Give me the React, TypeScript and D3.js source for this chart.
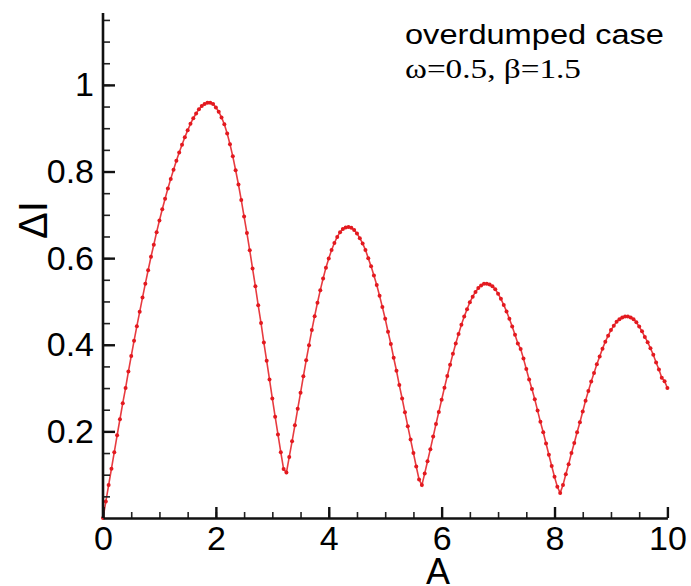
import React, { useEffect, useRef } from 'react';
import * as d3 from 'd3';

const aValues: number[] = d3.range(0, 201).map(i => +(i * 0.05).toFixed(2));

// ΔI values
const deltaI: number[] = [
  0.000, 0.038, 0.076, 0.114, 0.152, 0.191, 0.228, 0.265, 0.300, 0.338,
  0.374, 0.409, 0.443, 0.476, 0.509, 0.541, 0.572, 0.603, 0.631, 0.660,
  0.687, 0.713, 0.737, 0.761, 0.783, 0.804, 0.825, 0.844, 0.862, 0.879,
  0.895, 0.910, 0.923, 0.934, 0.944, 0.951, 0.956, 0.959, 0.959, 0.956,
  0.948, 0.938, 0.925, 0.909, 0.888, 0.863, 0.835, 0.803, 0.770, 0.734,
  0.696, 0.658, 0.618, 0.576, 0.535, 0.491, 0.450, 0.405, 0.363, 0.320,
  0.276, 0.234, 0.193, 0.152, 0.113, 0.105, 0.141, 0.177, 0.214, 0.252,
  0.289, 0.327, 0.364, 0.399, 0.434, 0.466, 0.497, 0.526, 0.553, 0.578,
  0.599, 0.619, 0.635, 0.649, 0.660, 0.667, 0.671, 0.672, 0.670, 0.665,
  0.657, 0.646, 0.634, 0.619, 0.600, 0.581, 0.560, 0.538, 0.513, 0.487,
  0.460, 0.430, 0.402, 0.370, 0.340, 0.307, 0.276, 0.244, 0.212, 0.181,
  0.150, 0.119, 0.089, 0.076, 0.103, 0.131, 0.159, 0.188, 0.217, 0.245,
  0.273, 0.301, 0.328, 0.354, 0.379, 0.403, 0.425, 0.446, 0.465, 0.482,
  0.498, 0.511, 0.522, 0.531, 0.537, 0.541, 0.541, 0.539, 0.535, 0.528,
  0.518, 0.506, 0.492, 0.477, 0.460, 0.442, 0.423, 0.403, 0.390, 0.368,
  0.344, 0.320, 0.298, 0.274, 0.248, 0.222, 0.198, 0.172, 0.146, 0.120,
  0.095, 0.072, 0.058, 0.076, 0.101, 0.124, 0.150, 0.173, 0.198, 0.221,
  0.246, 0.271, 0.293, 0.315, 0.335, 0.355, 0.373, 0.391, 0.407, 0.421,
  0.434, 0.444, 0.453, 0.459, 0.463, 0.465, 0.465, 0.463, 0.459, 0.452,
  0.442, 0.431, 0.418, 0.406, 0.392, 0.377, 0.359, 0.343, 0.324, 0.316,
  0.300,
];

const xMajorTicks = [0, 2, 4, 6, 8, 10];
const xMinorTicks = d3.range(0, 10.01, 0.5);
const yMajorTicks = [0.2, 0.4, 0.6, 0.8, 1];
const yMinorTicks = d3.range(0.05, 1.16, 0.05);

const annotationLine1 = 'overdumped case';
const annotationLine2 = 'ω=0.5, β=1.5';

export default function App() {
  const svgRef = useRef<SVGSVGElement>(null);
  const width = 691;
  const height = 586;

  useEffect(() => {
    document.body.style.margin = '0';
    const svg = d3.select(svgRef.current);
    svg.selectAll('*').remove();

    const x = d3.scaleLinear().domain([0, 10]).range([103, 667.4]);
    const y = d3.scaleLinear().domain([0, 1.166]).range([518, 13]);

    const data = aValues.map((a, i) => ({ a, v: deltaI[i] }));
    const red = '#e3191f';

    // curve
    const line = d3.line<{ a: number; v: number }>()
      .x(d => x(d.a))
      .y(d => y(d.v));

    svg.append('path')
      .datum(data)
      .attr('d', line)
      .attr('fill', 'none')
      .attr('stroke', red)
      .attr('stroke-opacity', 0.85)
      .attr('stroke-width', 1.6);

    svg.append('g')
      .selectAll('circle')
      .data(data)
      .enter()
      .append('circle')
      .attr('cx', d => x(d.a))
      .attr('cy', d => y(d.v))
      .attr('r', 2)
      .attr('fill', red);

    const font = 'Liberation Sans, Arial, sans-serif';

    // minor ticks
    svg.append('g')
      .attr('transform', `translate(0, ${y(0)})`)
      .call(d3.axisBottom(x).tickValues(xMinorTicks).tickSize(-6).tickSizeOuter(0).tickFormat(() => ''))
      .call(g => g.select('.domain').remove())
      .call(g => g.selectAll('line').attr('stroke', '#222').attr('stroke-width', 1.6));

    svg.append('g')
      .attr('transform', `translate(${x(0)}, 0)`)
      .call(d3.axisLeft(y).tickValues(yMinorTicks).tickSize(-7).tickSizeOuter(0).tickFormat(() => ''))
      .call(g => g.select('.domain').remove())
      .call(g => g.selectAll('line').attr('stroke', '#222').attr('stroke-width', 1.6));

    // major axes
    const xAxis = svg.append('g')
      .attr('transform', `translate(0, ${y(0)})`)
      .call(d3.axisBottom(x).tickValues(xMajorTicks).tickSize(-11).tickSizeOuter(0).tickPadding(8).tickFormat(d => `${d}`));
    xAxis.select('.domain').attr('stroke', '#111').attr('stroke-width', 2.6);
    xAxis.selectAll('line').attr('stroke', '#111').attr('stroke-width', 2.4);
    xAxis.selectAll('text').attr('font-family', font).attr('font-size', 34).attr('fill', '#000');

    const yAxis = svg.append('g')
      .attr('transform', `translate(${x(0)}, 0)`)
      .call(d3.axisLeft(y).tickValues(yMajorTicks).tickSize(-12).tickSizeOuter(0).tickPadding(9).tickFormat(d => `${d}`));
    yAxis.select('.domain').attr('stroke', '#111').attr('stroke-width', 2.6)
      .attr('d', `M0,${y(1.166)}V${y(0)}`);
    yAxis.selectAll('line').attr('stroke', '#111').attr('stroke-width', 2.4);
    yAxis.selectAll('text').attr('font-family', font).attr('font-size', 34).attr('fill', '#000');

    // axis titles
    svg.append('text')
      .attr('x', 438)
      .attr('y', 584)
      .attr('text-anchor', 'middle')
      .attr('font-family', font)
      .attr('font-size', 36)
      .text('A');

    svg.append('text')
      .attr('transform', 'translate(47, 220) rotate(-90)')
      .attr('text-anchor', 'middle')
      .attr('font-family', font)
      .attr('font-size', 40)
      .text('ΔI');

    // annotation
    svg.append('text')
      .attr('x', 405)
      .attr('y', 44)
      .attr('font-family', font)
      .attr('font-size', 27)
      .attr('textLength', 259)
      .attr('lengthAdjust', 'spacingAndGlyphs')
      .text(annotationLine1);

    svg.append('text')
      .attr('x', 405)
      .attr('y', 78)
      .attr('font-family', 'Liberation Serif, Times New Roman, serif')
      .attr('font-size', 27)
      .attr('textLength', 176)
      .attr('lengthAdjust', 'spacingAndGlyphs')
      .text(annotationLine2);
  }, []);

  return (
    <svg
      ref={svgRef}
      width={width}
      height={height}
      style={{ position: 'absolute', left: 0, top: 0, background: '#fff' }}
    />
  );
}
